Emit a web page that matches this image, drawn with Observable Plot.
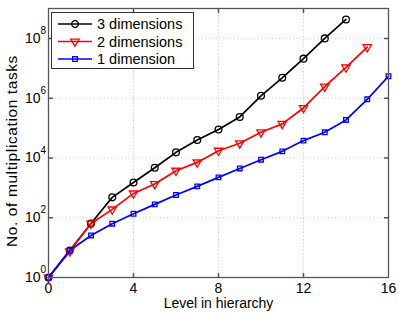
<!DOCTYPE html>
<html>
<head>
<meta charset="utf-8">
<script src="https://cdn.jsdelivr.net/npm/d3@7"></script>
<script src="https://cdn.jsdelivr.net/npm/@observablehq/plot@0.6"></script>
<style>
  body { margin: 0; background: #fff; }
  #wrap { position: relative; width: 399px; height: 313px; font-family: "Liberation Sans", Arial, sans-serif; }
  #legend { position: absolute; left: 51px; top: 12px; }
  .ylab text { letter-spacing: 0.6px; }
</style>
</head>
<body>
<div id="wrap"></div>
<script>
// ---- data ----
const seriesNames = ["3 dimensions", "2 dimensions", "1 dimension"];
const seriesColors = ["#000000", "#ff0000", "#0000ff"];
const seriesSymbols = ["circle", "triangle", "square"];
const levels3 = [0,1,2,3,4,5,6,7,8,9,10,11,12,13,14];
const tasks3 = [1, 8, 64, 480, 1500, 4700, 15400, 40000, 89000, 235000, 1.2e6, 4.8e6, 2.1e7, 1.0e8, 4.3e8];
const levels2 = [0,1,2,3,4,5,6,7,8,9,10,11,12,13,14,15];
const tasks2 = [1, 7.5, 64, 190, 650, 1340, 3750, 7100, 17500, 31000, 72000, 138000, 470000, 2.45e6, 1.07e7, 5.1e7];
const levels1 = [0,1,2,3,4,5,6,7,8,9,10,11,12,13,14,15,16];
const tasks1 = [1, 8, 25.5, 63, 136, 280, 575, 1120, 2240, 4460, 8750, 16600, 38000, 72000, 187000, 915000, 5.4e6];
const xTicks = [0, 4, 8, 12, 16];
const yTicks = [1, 1e2, 1e4, 1e6, 1e8];
const yExponents = ["0", "2", "4", "6", "8"];
const xLabel = "Level in hierarchy";
const yLabel = "No. of multiplication tasks";

const rows = [];
[[levels3, tasks3], [levels2, tasks2], [levels1, tasks1]].forEach(([xs, ys], i) => {
  xs.forEach((x, j) => rows.push({series: seriesNames[i], level: x, tasks: ys[j]}));
});
const byName = s => rows.filter(d => d.series === s);

const tickShape = {draw(ctx, l) { ctx.moveTo(0, 0); ctx.lineTo(0, -l); }};
const axisColor = "#555";
const innerX = xTicks.slice(1, -1);
const innerY = yTicks.slice(1);

const marks = [
  Plot.ruleX(innerX, {x: d => d, stroke: "#c8c8c8", strokeDasharray: "1,2.5"}),
  Plot.ruleY(innerY, {y: d => d, stroke: "#c8c8c8", strokeDasharray: "1,2.5"}),
  // inward ticks
  Plot.vector(innerX, {x: d => d, frameAnchor: "bottom", length: 4, anchor: "start", rotate: 0, shape: tickShape, stroke: axisColor}),
  Plot.vector(innerX, {x: d => d, frameAnchor: "top", length: 4, anchor: "start", rotate: 180, shape: tickShape, stroke: axisColor}),
  Plot.vector(innerY, {y: d => d, frameAnchor: "left", length: 4, anchor: "start", rotate: 90, shape: tickShape, stroke: axisColor}),
  Plot.vector(innerY, {y: d => d, frameAnchor: "right", length: 4, anchor: "start", rotate: -90, shape: tickShape, stroke: axisColor}),
];
seriesNames.forEach((s, i) => {
  marks.push(Plot.line(byName(s), {x: "level", y: "tasks", stroke: seriesColors[i], strokeWidth: 1.7}));
});
seriesNames.forEach((s, i) => {
  marks.push(Plot.dot(byName(s), {
    x: "level", y: "tasks", stroke: seriesColors[i], fill: "none", strokeWidth: 1.3,
    symbol: seriesSymbols[i], r: i === 0 ? 3.4 : i === 1 ? 3.1 : 2.6, rotate: i === 1 ? 180 : 0
  }));
});
marks.push(
  Plot.frame({stroke: axisColor, strokeWidth: 1.3}),
  Plot.text(xTicks, {x: d => d, frameAnchor: "bottom", dy: 11, lineAnchor: "middle", fontSize: 14, fill: "#000"}),
  Plot.text(yTicks, {y: d => d, frameAnchor: "left", text: () => "10", textAnchor: "end", dx: -8, lineAnchor: "middle", fontSize: 14, fill: "#000"}),
  Plot.text(yTicks, {y: d => d, frameAnchor: "left", text: (d, i) => yExponents[i], textAnchor: "start", dx: -8, dy: -7.5, lineAnchor: "middle", fontSize: 10, fill: "#000"}),
  Plot.text([xLabel], {frameAnchor: "bottom", dy: 26, textAnchor: "middle", lineAnchor: "middle", fontSize: 14, fill: "#000"}),
  Plot.text([yLabel], {frameAnchor: "left", dx: -36, dy: 8, rotate: -90, textAnchor: "middle", lineAnchor: "middle", fontSize: 15.5, fill: "#000", className: "ylab"})
);

const chart = Plot.plot({
  width: 399, height: 313,
  marginLeft: 48, marginRight: 11, marginTop: 8, marginBottom: 36,
  style: {fontFamily: "'Liberation Sans', Arial, sans-serif", background: "#fff", overflow: "visible"},
  x: {domain: [0, 16], axis: null},
  y: {type: "log", domain: [1, 1e9], axis: null},
  marks
});
const wrap = document.getElementById("wrap");
wrap.appendChild(chart);

// legend overlay
const lg = d3.select(wrap).append("svg").attr("id", "legend").attr("width", 143).attr("height", 58)
  .style("font-family", "'Liberation Sans', Arial, sans-serif");
lg.append("rect").attr("x", 0.5).attr("y", 0.5).attr("width", 142).attr("height", 56)
  .attr("fill", "#fff").attr("stroke", "#333").attr("stroke-width", 1);
seriesNames.forEach((s, i) => {
  const y = 12 + i * 17.5;
  const g = lg.append("g");
  g.append("line").attr("x1", 7).attr("x2", 41).attr("y1", y).attr("y2", y)
    .attr("stroke", seriesColors[i]).attr("stroke-width", 1.6);
  const sym = i === 0 ? d3.symbolCircle : i === 1 ? d3.symbolTriangle : d3.symbolSquare;
  const r = i === 0 ? 3.4 : i === 1 ? 3.1 : 2.6;
  g.append("path").attr("d", d3.symbol(sym, Math.PI * r * r)())
    .attr("transform", `translate(24,${y}) rotate(${i === 1 ? 180 : 0})`)
    .attr("fill", "none").attr("stroke", seriesColors[i]).attr("stroke-width", 1.3);
  g.append("text").attr("x", 46).attr("y", y).attr("dy", "0.35em")
    .attr("font-size", 14.5).attr("fill", "#000").text(s);
});
</script>
</body>
</html>
